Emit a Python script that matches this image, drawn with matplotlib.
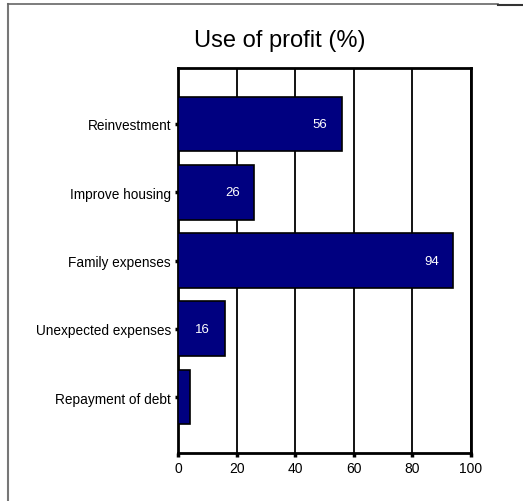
import matplotlib
matplotlib.use("Agg")
import matplotlib.pyplot as plt
from matplotlib.lines import Line2D

plt.rcParams['font.family'] = ['Liberation Sans', 'DejaVu Sans']

categories = ["Reinvestment", "Improve housing", "Family expenses",
              "Unexpected expenses", "Repayment of debt"]
values = [56, 26, 94, 16, 4]
labels = ["56", "26", "94", "16", ""]
x_ticks = [0, 20, 40, 60, 80, 100]

fig = plt.figure(figsize=(5.23, 5.02), dpi=100)
ax = fig.add_axes([0.3403, 0.0956, 0.5603, 0.7669])

ypos = list(range(len(categories)))
ax.barh(ypos, values, height=0.8, color="#000080", edgecolor="black",
        linewidth=1.2, zorder=3)

for y, v, t in zip(ypos, values, labels):
    if t:
        ax.text(v - 7.5, y, t, color="white", ha="center", va="center",
                fontsize=9.5, zorder=4)

ax.set_xlim(0, 100)
ax.set_ylim(4.82, -0.82)
ax.set_xticks(x_ticks)
ax.set_xticklabels([str(t) for t in x_ticks], fontsize=10)
ax.set_yticks(ypos)
ax.set_yticklabels(categories, fontsize=9.8)
ax.tick_params(axis="x", length=3, width=2.5, direction="out", pad=3)
ax.tick_params(axis="y", length=2, width=2.5, direction="out", pad=3)
ax.xaxis.grid(True, color="black", linewidth=1.3, zorder=0)
ax.set_axisbelow(True)
for s in ax.spines.values():
    s.set_linewidth(2)
    s.set_color("black")

fig.text(0.534, 0.918, "Use of profit (%)", ha="center", va="center",
         fontsize=17)

# outer frame
fig.add_artist(Line2D([0.016, 0.016], [0.0, 0.99], transform=fig.transFigure,
                      color="#777777", linewidth=1.5))
fig.add_artist(Line2D([0.016, 0.952], [0.99, 0.99], transform=fig.transFigure,
                      color="#666666", linewidth=1.2))
fig.add_artist(Line2D([0.952, 1.0], [0.988, 0.988], transform=fig.transFigure,
                      color="#333333", linewidth=1.5))

fig.savefig("out.png", dpi=100)
